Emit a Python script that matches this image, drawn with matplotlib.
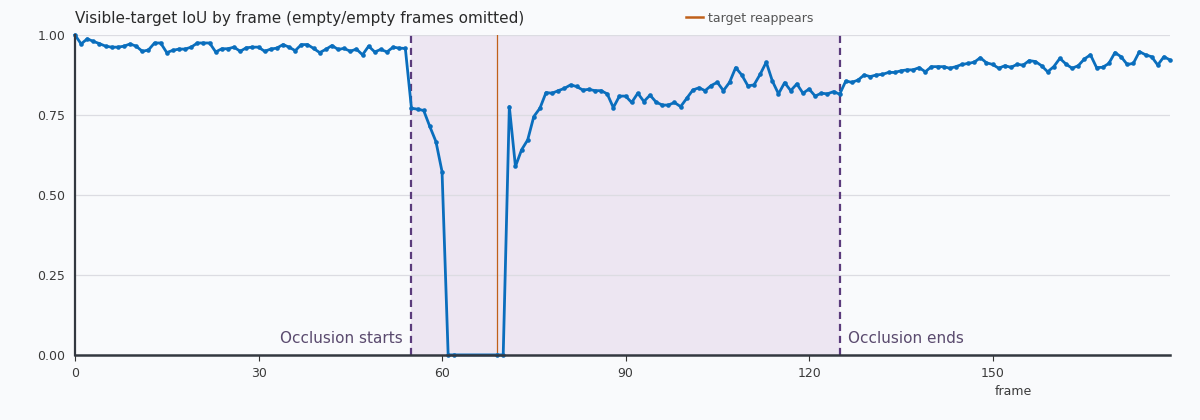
import numpy as np
import matplotlib
matplotlib.use("Agg")
import matplotlib.pyplot as plt
from matplotlib.lines import Line2D

# ---- data ----
frames_a = list(range(0, 63))
frames_b = list(range(69, 180))
frames = frames_a + frames_b

iou_0_28 = [1.00, 0.972, 0.988, 0.980, 0.973, 0.965, 0.962, 0.962, 0.965, 0.972,
            0.965, 0.949, 0.953, 0.975, 0.975, 0.945, 0.952, 0.956, 0.956, 0.962,
            0.975, 0.975, 0.975, 0.947, 0.957, 0.957, 0.962, 0.949, 0.960]
iou_29_54 = [0.962, 0.962, 0.949, 0.956, 0.959, 0.970, 0.962, 0.951, 0.970, 0.970,
             0.958, 0.945, 0.955, 0.967, 0.955, 0.958, 0.949, 0.956, 0.938, 0.965,
             0.947, 0.955, 0.947, 0.962, 0.959, 0.958]
iou_55_62 = [0.771, 0.768, 0.764, 0.714, 0.667, 0.573, 0.0, 0.0]
iou_69_98 = [0.0, 0.0, 0.776, 0.589, 0.641, 0.672, 0.745, 0.771, 0.820, 0.818,
             0.826, 0.833, 0.844, 0.839, 0.828, 0.830, 0.826, 0.826, 0.816, 0.773,
             0.809, 0.809, 0.789, 0.818, 0.792, 0.812, 0.790, 0.781, 0.781, 0.789]
iou_99_125 = [0.776, 0.802, 0.828, 0.835, 0.826, 0.842, 0.852, 0.826, 0.852, 0.898,
              0.875, 0.841, 0.844, 0.877, 0.915, 0.856, 0.816, 0.851, 0.826, 0.847,
              0.818, 0.831, 0.809, 0.818, 0.816, 0.823, 0.815]
iou_126_152 = [0.856, 0.852, 0.859, 0.875, 0.870, 0.875, 0.877, 0.883, 0.883, 0.888,
               0.891, 0.891, 0.898, 0.885, 0.901, 0.901, 0.901, 0.896, 0.901, 0.908,
               0.911, 0.915, 0.929, 0.913, 0.908, 0.896, 0.904]
iou_153_179 = [0.899, 0.908, 0.906, 0.920, 0.917, 0.904, 0.885, 0.901, 0.927, 0.909,
               0.896, 0.904, 0.925, 0.938, 0.898, 0.899, 0.911, 0.945, 0.932, 0.908,
               0.911, 0.948, 0.938, 0.932, 0.906, 0.932, 0.922]
iou = (iou_0_28 + iou_29_54 + iou_55_62 + iou_69_98 + iou_99_125
       + iou_126_152 + iou_153_179)

occlusion_start = 55
occlusion_end = 125
reappear_frame = 69
x_ticks = [0, 30, 60, 90, 120, 150]
y_ticks = [0.0, 0.25, 0.50, 0.75, 1.00]

# ---- style ----
BG = "#f9fafc"
LINE = "#0a6ebd"
PURPLE = "#5b3b7c"
SHADE = "#ede6f2"
ORANGE = "#c0601a"
TXT = "#3a3a3a"

fig = plt.figure(figsize=(12, 4.2), dpi=100, facecolor=BG)
ax = fig.add_axes([0.0625, 0.155, 0.9125, 0.7617])
ax.set_facecolor(BG)

ax.axvspan(occlusion_start, occlusion_end, color=SHADE, zorder=0, lw=0)
for yt in y_ticks[1:]:
    ax.axhline(yt, color="#dcdce2", lw=0.9, zorder=0.5)

ax.axvline(occlusion_start, color=PURPLE, lw=1.6, ls=(0, (3.2, 2.2)), zorder=2)
ax.axvline(occlusion_end, color=PURPLE, lw=1.6, ls=(0, (3.2, 2.2)), zorder=2)
ax.axvline(reappear_frame, color=ORANGE, lw=0.9, zorder=2)

ax.plot(frames, iou, color=LINE, lw=2.0, marker="o", ms=3.3,
        markeredgewidth=0, zorder=3, clip_on=False)

ax.set_xlim(0, 179)
ax.set_ylim(0, 1)
ax.set_xticks(x_ticks)
ax.set_yticks(y_ticks)
ax.set_yticklabels([f"{v:.2f}" for v in y_ticks])
ax.tick_params(axis="x", colors="#333333", labelcolor=TXT, labelsize=9,
               length=4, width=0.8, pad=5)
ax.tick_params(axis="y", length=0, labelcolor=TXT, labelsize=9, pad=27)
for lab in ax.get_yticklabels():
    lab.set_horizontalalignment("left")

for s in ["top", "right"]:
    ax.spines[s].set_visible(False)
ax.spines["left"].set_color("#333840")
ax.spines["left"].set_linewidth(1.6)
ax.spines["bottom"].set_color("#333840")
ax.spines["bottom"].set_linewidth(1.8)
ax.spines["left"].set_zorder(4)
ax.spines["bottom"].set_zorder(4)

ax.set_xlabel("frame", fontsize=9, color=TXT)
ax.xaxis.set_label_coords(0.857, -0.095)

ax.text(occlusion_start - 1.4, 0.05, "Occlusion starts", ha="right", va="center",
        fontsize=11, color="#5a4a6e")
ax.text(occlusion_end + 1.4, 0.05, "Occlusion ends", ha="left", va="center",
        fontsize=11, color="#5a4a6e")

fig.text(0.0625, 0.955, "Visible-target IoU by frame (empty/empty frames omitted)",
         ha="left", va="center", fontsize=11, color="#2a2a2a")

handle = Line2D([0], [0], color=ORANGE, lw=1.8)
fig.legend([handle], ["target reappears"], loc="center left",
           bbox_to_anchor=(0.562, 0.957), frameon=False, fontsize=9,
           handlelength=1.4, handletextpad=0.4, labelcolor="#555555")

fig.savefig("out.png", dpi=100, facecolor=BG)
